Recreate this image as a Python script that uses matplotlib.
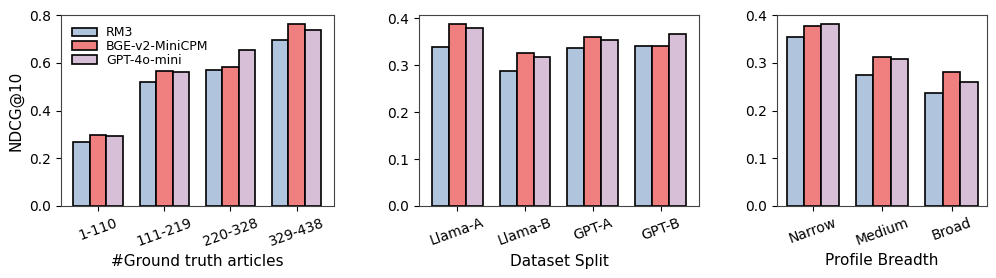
import numpy as np
import matplotlib.pyplot as plt

# ------------------- Data ------------------- #
methods = ['RM3', 'BGE-v2-MiniCPM', 'GPT-4o-mini']
colors = ['#B0C4DE', '#F08080', '#D8BFD8']

gt_labels = ['1-110', '111-219', '220-328', '329-438']
gt_rm3 = [0.269, 0.521, 0.568, 0.695]
gt_bge = [0.297, 0.567, 0.581, 0.762]
gt_gpt = [0.294, 0.561, 0.655, 0.739]

split_labels = ['Llama-A', 'Llama-B', 'GPT-A', 'GPT-B']
split_rm3 = [0.339, 0.287, 0.336, 0.341]
split_bge = [0.388, 0.327, 0.360, 0.341]
split_gpt = [0.380, 0.317, 0.354, 0.366]

breadth_labels = ['Narrow', 'Medium', 'Broad']
breadth_rm3 = [0.354, 0.274, 0.236]
breadth_bge = [0.377, 0.313, 0.280]
breadth_gpt = [0.381, 0.307, 0.260]


def draw_panel(ax, labels, series, xlabel):
    x = np.arange(len(labels))
    width = 0.25
    for i, (vals, name) in enumerate(zip(series, methods)):
        ax.bar(x + (i - 1) * width, vals, width, label=name, color=colors[i],
               edgecolor='black', linewidth=1.2)
    ax.set_xticks(x)
    ax.set_xticklabels(labels, rotation=20, fontsize=10)
    ax.tick_params(axis='y', labelsize=10)
    ax.set_xlabel(xlabel, fontsize=11)
    for s in ax.spines.values():
        s.set_color('#444444')


fig = plt.figure(figsize=(9.96, 2.78), dpi=100)
ax1 = fig.add_axes([0.0612, 0.259, 0.274, 0.687])
ax2 = fig.add_axes([0.4207, 0.259, 0.281, 0.687])
ax3 = fig.add_axes([0.7801, 0.259, 0.211, 0.687])

draw_panel(ax1, gt_labels, [gt_rm3, gt_bge, gt_gpt], '#Ground truth articles')
draw_panel(ax2, split_labels, [split_rm3, split_bge, split_gpt], 'Dataset Split')
draw_panel(ax3, breadth_labels, [breadth_rm3, breadth_bge, breadth_gpt], 'Profile Breadth')

ax1.set_ylabel('NDCG@10', fontsize=11)
ax1.set_ylim(0, 0.8)
ax1.set_yticks([0.0, 0.2, 0.4, 0.6, 0.8])
ax3.set_ylim(0, 0.4)
ax1.legend(loc='upper left', fontsize=9, frameon=False, handlelength=2.0,
           handletextpad=0.7, labelspacing=0.05, borderaxespad=0.5)

fig.savefig('out.png', dpi=100)
